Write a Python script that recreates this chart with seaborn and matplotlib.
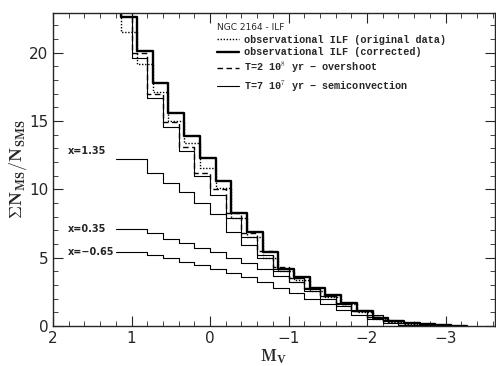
import numpy as np
import pandas as pd
import matplotlib
matplotlib.use("Agg")
from matplotlib import pyplot as plt
from matplotlib.ticker import MultipleLocator
import seaborn as sns

# bin edges (M_V) of the observed ILF and of the model / power-law curves
obs_start = 1.33
model_start = 1.2
bin_width = 0.2

# observational ILF (original data) -- dotted
obs_original = [24.5, 21.5, 19.2, 17.1, 15.0, 13.4, 11.6, 10.1, 7.9, 6.5, 5.0, 4.0,
                3.4, 2.6, 2.1, 1.6, 1.0, 0.55, 0.3, 0.15, 0.1, 0.05, 0.0]
# observational ILF (corrected) -- thick solid
obs_corrected = [26.0, 22.6, 20.1, 17.8, 15.6, 13.9, 12.3, 10.6, 8.3, 6.9, 5.4, 4.2,
                 3.6, 2.8, 2.3, 1.7, 1.1, 0.6, 0.35, 0.2, 0.15, 0.05, 0.0]
# T=2 10^8 yr - overshoot -- dashed
model_overshoot = [24.0, 20.0, 17.0, 14.9, 13.1, 11.2, 10.0, 8.3, 6.8, 5.5, 4.3, 3.5,
                   2.8, 2.2, 1.6, 1.1, 0.7, 0.4, 0.25, 0.1, 0.05, 0.0]
# T=7 10^7 yr - semiconvection -- thin solid
model_semiconv = [24.0, 19.6, 16.7, 14.6, 12.8, 11.0, 9.6, 7.9, 6.5, 5.2, 4.0, 3.2,
                  2.6, 2.0, 1.5, 1.1, 0.7, 0.4, 0.2, 0.1, 0.05, 0.0]
# power-law IMFs
pl_135 = [12.2, 12.2, 11.2, 10.5, 9.8, 9.0, 8.2, 6.9, 5.9, 5.0, 4.2, 3.5,
          2.8, 2.2, 1.6, 1.1, 0.7, 0.4, 0.2, 0.1, 0.0]
pl_035 = [7.1, 7.1, 6.8, 6.4, 6.1, 5.7, 5.4, 5.0, 4.6, 4.2, 3.7, 3.2,
          2.7, 2.2, 1.7, 1.2, 0.8, 0.45, 0.2, 0.05, 0.0]
pl_m065 = [5.4, 5.4, 5.2, 5.0, 4.7, 4.5, 4.2, 3.9, 3.6, 3.2, 2.8, 2.4,
           2.0, 1.6, 1.2, 0.8, 0.5, 0.25, 0.1, 0.0]

pl_labels = ['x=1.35', 'x=0.35', 'x=\u22120.65']


def steps(start, vals):
    # edges run from bright to faint, last value repeated for the final step
    edges = start - bin_width * np.arange(len(vals) + 1)
    return pd.DataFrame({'M': edges, 'N': list(vals) + [vals[-1]]})


sns.set_style('ticks')
plt.rcParams['font.family'] = ['DejaVu Sans']
plt.rcParams['mathtext.fontset'] = 'cm'

fig = plt.figure(figsize=(4.96, 3.66), dpi=100)
ax = fig.add_axes([0.107, 0.109, 0.891, 0.855])

kw = dict(x='M', y='N', sort=False, drawstyle='steps-post', ax=ax, color='black')
sns.lineplot(data=steps(obs_start, obs_original), lw=1.0, linestyle=(0, (1, 1.2)),
             label='observational ILF (original data)', **kw)
sns.lineplot(data=steps(obs_start, obs_corrected), lw=1.7,
             label='observational ILF (corrected)', **kw)
sns.lineplot(data=steps(model_start, model_overshoot), lw=1.0, linestyle=(0, (4, 2.5)),
             label='T=2 10$^8$ yr \u2212 overshoot', **kw)
sns.lineplot(data=steps(model_start, model_semiconv), lw=0.8,
             label='T=7 10$^7$ yr \u2212 semiconvection', **kw)
for vals in [pl_135, pl_035, pl_m065]:
    sns.lineplot(data=steps(model_start, vals), lw=0.8, legend=False, **kw)

# labels of the power-law curves
ax.text(1.81, 12.85, pl_labels[0], fontsize=7, fontweight='bold', va='center', ha='left')
ax.text(1.81, pl_035[0], pl_labels[1], fontsize=7, fontweight='bold', va='center', ha='left')
ax.text(1.81, pl_m065[0], pl_labels[2], fontsize=7, fontweight='bold', va='center', ha='left')

ax.set_xlim(2, -3.63)
ax.set_ylim(0, 22.9)
ax.xaxis.set_major_locator(MultipleLocator(1))
ax.xaxis.set_minor_locator(MultipleLocator(0.2))
ax.yaxis.set_major_locator(MultipleLocator(5))
ax.yaxis.set_minor_locator(MultipleLocator(1))
ax.tick_params(which='both', direction='in', top=True, right=True, labelsize=11)
ax.tick_params(which='major', length=7, width=0.8)
ax.tick_params(which='minor', length=3.5, width=0.6)
ax.set_xticks([2, 1, 0, -1, -2, -3])
ax.set_xticklabels(['2', '1', '0', '\u22121', '\u22122', '\u22123'])
for s in ax.spines.values():
    s.set_linewidth(1.0)

ax.set_xlabel(r'$\mathbf{M_V}$', fontsize=12, labelpad=1)
ax.set_ylabel(r'$\mathbf{\Sigma N_{MS}/N_{SMS}}$', fontsize=13, labelpad=0)

leg = ax.legend(title='NGC 2164 - ILF', loc='upper left', bbox_to_anchor=(0.355, 0.99),
                frameon=False, handlelength=2.2, handletextpad=0.45, labelspacing=0.25,
                borderpad=0.2, prop={'family': 'Liberation Mono', 'weight': 'bold', 'size': 7.3},
                title_fontsize=6.5)
leg._legend_box.align = 'left'

fig.savefig('out.png', dpi=100)
